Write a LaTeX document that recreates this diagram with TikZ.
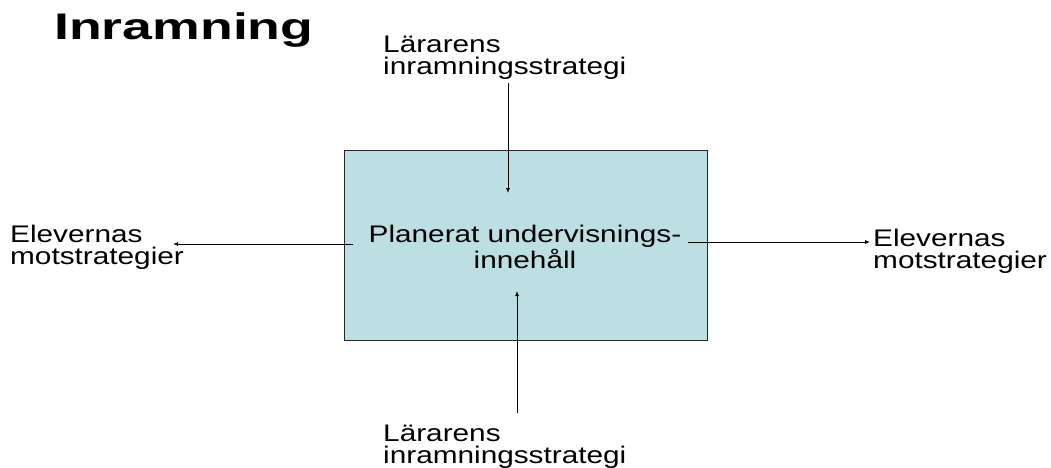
\documentclass[tikz,border=0pt]{standalone}
\usepackage{fontspec}
\setmainfont{Liberation Sans}
\usetikzlibrary{arrows.meta}
\definecolor{boxfill}{RGB}{188,223,227}
\newcommand{\sx}[1]{\scalebox{1.24}[1]{#1}}
\tikzset{
  lbl/.style={inner sep=0pt, anchor=base west, align=left, font=\fontsize{24}{22}\selectfont},
  arr/.style={-{Latex[length=5pt,width=4pt]}, line width=0.8pt},
}
\begin{document}
\begin{tikzpicture}[x=1pt,y=-1pt]
\useasboundingbox (0,0) rectangle (1051,468);
\node[inner sep=0pt, anchor=base west, font=\fontsize{37}{37}\selectfont\bfseries] (title) at (54,40) {\scalebox{1.45}[1]{Inramning}};
\node[draw=black!85, fill=boxfill, line width=0.8pt, minimum width=363pt, minimum height=190pt, inner sep=0pt] (box) at (525.5,245) {};
\node[lbl, align=center, anchor=base] (mid) at (525,268) {\sx{Planerat undervisnings-}\\\sx{innehåll}};
\node[lbl] (tl) at (383,75) {\sx{Lärarens}\\\sx{inramningsstrategi}};
\node[lbl] (bl) at (383,463) {\sx{Lärarens}\\\sx{inramningsstrategi}};
\node[lbl] (ll) at (10,264) {\sx{Elevernas}\\\sx{motstrategier}};
\node[lbl] (rl) at (873,268) {\sx{Elevernas}\\\sx{motstrategier}};
\coordinate (ts) at (508,83);
\coordinate (te) at (508,193);
\coordinate (bs) at (517,413);
\coordinate (be) at (517,291);
\coordinate (ls) at (353,244);
\coordinate (le) at (173,244);
\coordinate (rs) at (688,242);
\coordinate (re) at (870,242);
\draw[arr] (ts) -- (te);
\draw[arr] (bs) -- (be);
\draw[arr] (ls) -- (le);
\draw[arr] (rs) -- (re);
\end{tikzpicture}
\end{document}
